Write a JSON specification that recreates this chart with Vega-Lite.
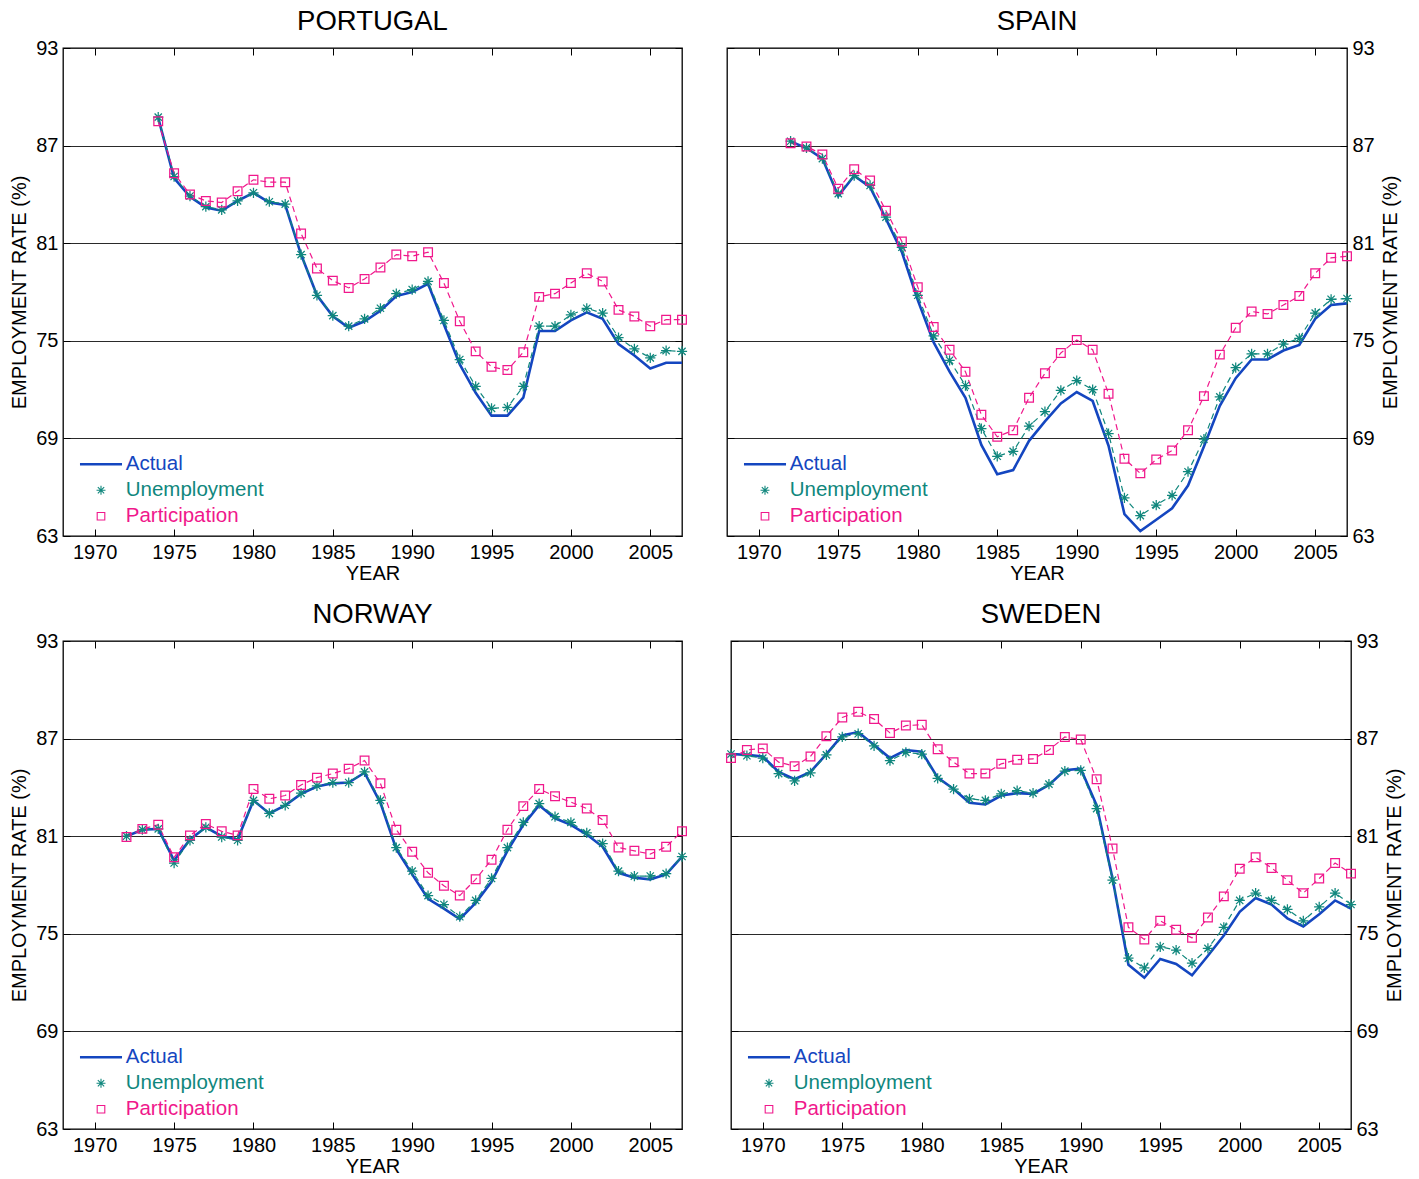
{
  "$schema": "https://vega.github.io/schema/vega-lite/v6.json",
  "padding": {"left": 9, "top": 6, "right": 5, "bottom": 5},
  "background": "white",
  "config": {
    "font": "Liberation Sans",
    "view": {"stroke": "#000", "strokeWidth": 1.3},
    "axis": {"labelFontSize": 20, "titleFontSize": 20, "titleFontWeight": "normal", "labelColor": "#000", "titleColor": "#000", "tickColor": "#000", "domain": false, "gridColor": "#2a2a2a", "gridWidth": 1, "gridOpacity": 1, "labelFont": "Liberation Sans", "titleFont": "Liberation Sans"},
    "title": {"fontSize": 27.5, "fontWeight": "normal", "font": "Liberation Sans", "color": "#000", "offset": 3},
    "legend": {"labelFont": "Liberation Sans"}
  },
  "datasets": {
    "d": [
      {"c":"Portugal","year":1974,"Actual":88.7,"Unemployment":88.75,"Participation":88.5},
      {"c":"Portugal","year":1975,"Actual":85.0,"Unemployment":85.1,"Participation":85.3},
      {"c":"Portugal","year":1976,"Actual":83.85,"Unemployment":83.9,"Participation":84.0},
      {"c":"Portugal","year":1977,"Actual":83.2,"Unemployment":83.25,"Participation":83.6},
      {"c":"Portugal","year":1978,"Actual":83.0,"Unemployment":83.05,"Participation":83.5},
      {"c":"Portugal","year":1979,"Actual":83.6,"Unemployment":83.6,"Participation":84.2},
      {"c":"Portugal","year":1980,"Actual":84.1,"Unemployment":84.1,"Participation":84.9},
      {"c":"Portugal","year":1981,"Actual":83.5,"Unemployment":83.55,"Participation":84.75},
      {"c":"Portugal","year":1982,"Actual":83.35,"Unemployment":83.4,"Participation":84.75},
      {"c":"Portugal","year":1983,"Actual":80.3,"Unemployment":80.3,"Participation":81.6},
      {"c":"Portugal","year":1984,"Actual":77.8,"Unemployment":77.8,"Participation":79.45},
      {"c":"Portugal","year":1985,"Actual":76.5,"Unemployment":76.55,"Participation":78.7},
      {"c":"Portugal","year":1986,"Actual":75.8,"Unemployment":75.9,"Participation":78.25},
      {"c":"Portugal","year":1987,"Actual":76.2,"Unemployment":76.35,"Participation":78.8},
      {"c":"Portugal","year":1988,"Actual":76.85,"Unemployment":77.0,"Participation":79.5},
      {"c":"Portugal","year":1989,"Actual":77.75,"Unemployment":77.9,"Participation":80.3},
      {"c":"Portugal","year":1990,"Actual":78.0,"Unemployment":78.15,"Participation":80.2},
      {"c":"Portugal","year":1991,"Actual":78.5,"Unemployment":78.65,"Participation":80.45},
      {"c":"Portugal","year":1992,"Actual":76.0,"Unemployment":76.25,"Participation":78.55},
      {"c":"Portugal","year":1993,"Actual":73.55,"Unemployment":73.85,"Participation":76.2},
      {"c":"Portugal","year":1994,"Actual":71.8,"Unemployment":72.2,"Participation":74.35},
      {"c":"Portugal","year":1995,"Actual":70.4,"Unemployment":70.85,"Participation":73.4},
      {"c":"Portugal","year":1996,"Actual":70.4,"Unemployment":70.9,"Participation":73.2},
      {"c":"Portugal","year":1997,"Actual":71.5,"Unemployment":72.2,"Participation":74.3},
      {"c":"Portugal","year":1998,"Actual":75.6,"Unemployment":75.9,"Participation":77.7},
      {"c":"Portugal","year":1999,"Actual":75.6,"Unemployment":75.9,"Participation":77.9},
      {"c":"Portugal","year":2000,"Actual":76.25,"Unemployment":76.6,"Participation":78.55},
      {"c":"Portugal","year":2001,"Actual":76.75,"Unemployment":77.0,"Participation":79.15},
      {"c":"Portugal","year":2002,"Actual":76.35,"Unemployment":76.7,"Participation":78.65},
      {"c":"Portugal","year":2003,"Actual":74.8,"Unemployment":75.2,"Participation":76.9},
      {"c":"Portugal","year":2004,"Actual":74.1,"Unemployment":74.5,"Participation":76.5},
      {"c":"Portugal","year":2005,"Actual":73.3,"Unemployment":73.95,"Participation":75.9},
      {"c":"Portugal","year":2006,"Actual":73.65,"Unemployment":74.4,"Participation":76.3},
      {"c":"Portugal","year":2007,"Actual":73.65,"Unemployment":74.35,"Participation":76.3},

      {"c":"Spain","year":1972,"Actual":87.25,"Unemployment":87.27,"Participation":87.15},
      {"c":"Spain","year":1973,"Actual":86.85,"Unemployment":86.86,"Participation":86.95},
      {"c":"Spain","year":1974,"Actual":86.2,"Unemployment":86.2,"Participation":86.45},
      {"c":"Spain","year":1975,"Actual":83.9,"Unemployment":84.05,"Participation":84.35},
      {"c":"Spain","year":1976,"Actual":85.15,"Unemployment":85.15,"Participation":85.55},
      {"c":"Spain","year":1977,"Actual":84.45,"Unemployment":84.55,"Participation":84.85},
      {"c":"Spain","year":1978,"Actual":82.5,"Unemployment":82.6,"Participation":83.0},
      {"c":"Spain","year":1979,"Actual":80.45,"Unemployment":80.75,"Participation":81.1},
      {"c":"Spain","year":1980,"Actual":77.5,"Unemployment":77.8,"Participation":78.3},
      {"c":"Spain","year":1981,"Actual":74.9,"Unemployment":75.3,"Participation":75.85},
      {"c":"Spain","year":1982,"Actual":73.1,"Unemployment":73.8,"Participation":74.45},
      {"c":"Spain","year":1983,"Actual":71.5,"Unemployment":72.25,"Participation":73.1},
      {"c":"Spain","year":1984,"Actual":68.6,"Unemployment":69.6,"Participation":70.45},
      {"c":"Spain","year":1985,"Actual":66.8,"Unemployment":67.9,"Participation":69.1},
      {"c":"Spain","year":1986,"Actual":67.05,"Unemployment":68.2,"Participation":69.5},
      {"c":"Spain","year":1987,"Actual":68.85,"Unemployment":69.75,"Participation":71.5},
      {"c":"Spain","year":1988,"Actual":70.05,"Unemployment":70.65,"Participation":73.0},
      {"c":"Spain","year":1989,"Actual":71.15,"Unemployment":71.95,"Participation":74.25},
      {"c":"Spain","year":1990,"Actual":71.85,"Unemployment":72.55,"Participation":75.05},
      {"c":"Spain","year":1991,"Actual":71.3,"Unemployment":72.0,"Participation":74.45},
      {"c":"Spain","year":1992,"Actual":68.55,"Unemployment":69.3,"Participation":71.75},
      {"c":"Spain","year":1993,"Actual":64.35,"Unemployment":65.35,"Participation":67.75},
      {"c":"Spain","year":1994,"Actual":63.3,"Unemployment":64.25,"Participation":66.85},
      {"c":"Spain","year":1995,"Actual":64.0,"Unemployment":64.9,"Participation":67.7},
      {"c":"Spain","year":1996,"Actual":64.7,"Unemployment":65.5,"Participation":68.25},
      {"c":"Spain","year":1997,"Actual":66.1,"Unemployment":66.95,"Participation":69.5},
      {"c":"Spain","year":1998,"Actual":68.5,"Unemployment":68.95,"Participation":71.6},
      {"c":"Spain","year":1999,"Actual":71.0,"Unemployment":71.55,"Participation":74.15},
      {"c":"Spain","year":2000,"Actual":72.7,"Unemployment":73.35,"Participation":75.8},
      {"c":"Spain","year":2001,"Actual":73.85,"Unemployment":74.2,"Participation":76.8},
      {"c":"Spain","year":2002,"Actual":73.85,"Unemployment":74.2,"Participation":76.65},
      {"c":"Spain","year":2003,"Actual":74.4,"Unemployment":74.8,"Participation":77.2},
      {"c":"Spain","year":2004,"Actual":74.75,"Unemployment":75.15,"Participation":77.75},
      {"c":"Spain","year":2005,"Actual":76.35,"Unemployment":76.7,"Participation":79.15},
      {"c":"Spain","year":2006,"Actual":77.2,"Unemployment":77.55,"Participation":80.1},
      {"c":"Spain","year":2007,"Actual":77.3,"Unemployment":77.6,"Participation":80.2},

      {"c":"Norway","year":1972,"Actual":81.0,"Unemployment":81.0,"Participation":80.95},
      {"c":"Norway","year":1973,"Actual":81.4,"Unemployment":81.4,"Participation":81.45},
      {"c":"Norway","year":1974,"Actual":81.45,"Unemployment":81.45,"Participation":81.7},
      {"c":"Norway","year":1975,"Actual":79.5,"Unemployment":79.35,"Participation":79.7},
      {"c":"Norway","year":1976,"Actual":80.8,"Unemployment":80.75,"Participation":81.05},
      {"c":"Norway","year":1977,"Actual":81.55,"Unemployment":81.55,"Participation":81.75},
      {"c":"Norway","year":1978,"Actual":81.0,"Unemployment":80.95,"Participation":81.3},
      {"c":"Norway","year":1979,"Actual":80.8,"Unemployment":80.75,"Participation":81.05},
      {"c":"Norway","year":1980,"Actual":83.2,"Unemployment":83.2,"Participation":83.9},
      {"c":"Norway","year":1981,"Actual":82.4,"Unemployment":82.4,"Participation":83.3},
      {"c":"Norway","year":1982,"Actual":82.9,"Unemployment":82.9,"Participation":83.5},
      {"c":"Norway","year":1983,"Actual":83.6,"Unemployment":83.65,"Participation":84.15},
      {"c":"Norway","year":1984,"Actual":84.05,"Unemployment":84.1,"Participation":84.6},
      {"c":"Norway","year":1985,"Actual":84.25,"Unemployment":84.3,"Participation":84.85},
      {"c":"Norway","year":1986,"Actual":84.3,"Unemployment":84.3,"Participation":85.15},
      {"c":"Norway","year":1987,"Actual":84.9,"Unemployment":84.95,"Participation":85.65},
      {"c":"Norway","year":1988,"Actual":83.05,"Unemployment":83.2,"Participation":84.25},
      {"c":"Norway","year":1989,"Actual":80.2,"Unemployment":80.3,"Participation":81.4},
      {"c":"Norway","year":1990,"Actual":78.65,"Unemployment":78.85,"Participation":80.05},
      {"c":"Norway","year":1991,"Actual":77.15,"Unemployment":77.35,"Participation":78.75},
      {"c":"Norway","year":1992,"Actual":76.55,"Unemployment":76.8,"Participation":77.95},
      {"c":"Norway","year":1993,"Actual":75.9,"Unemployment":76.05,"Participation":77.35},
      {"c":"Norway","year":1994,"Actual":76.9,"Unemployment":77.05,"Participation":78.35},
      {"c":"Norway","year":1995,"Actual":78.2,"Unemployment":78.4,"Participation":79.55},
      {"c":"Norway","year":1996,"Actual":80.1,"Unemployment":80.3,"Participation":81.4},
      {"c":"Norway","year":1997,"Actual":81.7,"Unemployment":81.85,"Participation":82.85},
      {"c":"Norway","year":1998,"Actual":82.9,"Unemployment":83.0,"Participation":83.9},
      {"c":"Norway","year":1999,"Actual":82.1,"Unemployment":82.2,"Participation":83.45},
      {"c":"Norway","year":2000,"Actual":81.7,"Unemployment":81.85,"Participation":83.1},
      {"c":"Norway","year":2001,"Actual":81.1,"Unemployment":81.2,"Participation":82.7},
      {"c":"Norway","year":2002,"Actual":80.35,"Unemployment":80.55,"Participation":82.0},
      {"c":"Norway","year":2003,"Actual":78.75,"Unemployment":78.85,"Participation":80.3},
      {"c":"Norway","year":2004,"Actual":78.45,"Unemployment":78.55,"Participation":80.1},
      {"c":"Norway","year":2005,"Actual":78.35,"Unemployment":78.55,"Participation":79.9},
      {"c":"Norway","year":2006,"Actual":78.65,"Unemployment":78.7,"Participation":80.35},
      {"c":"Norway","year":2007,"Actual":79.75,"Unemployment":79.75,"Participation":81.3},

      {"c":"Sweden","year":1968,"Actual":86.05,"Unemployment":86.05,"Participation":85.8},
      {"c":"Sweden","year":1969,"Actual":86.0,"Unemployment":85.95,"Participation":86.3},
      {"c":"Sweden","year":1970,"Actual":85.9,"Unemployment":85.8,"Participation":86.4},
      {"c":"Sweden","year":1971,"Actual":84.95,"Unemployment":84.85,"Participation":85.55},
      {"c":"Sweden","year":1972,"Actual":84.5,"Unemployment":84.4,"Participation":85.3},
      {"c":"Sweden","year":1973,"Actual":84.95,"Unemployment":84.9,"Participation":85.9},
      {"c":"Sweden","year":1974,"Actual":86.05,"Unemployment":86.0,"Participation":87.15},
      {"c":"Sweden","year":1975,"Actual":87.2,"Unemployment":87.1,"Participation":88.3},
      {"c":"Sweden","year":1976,"Actual":87.4,"Unemployment":87.3,"Participation":88.65},
      {"c":"Sweden","year":1977,"Actual":86.6,"Unemployment":86.55,"Participation":88.2},
      {"c":"Sweden","year":1978,"Actual":85.8,"Unemployment":85.65,"Participation":87.35},
      {"c":"Sweden","year":1979,"Actual":86.3,"Unemployment":86.15,"Participation":87.8},
      {"c":"Sweden","year":1980,"Actual":86.2,"Unemployment":86.05,"Participation":87.85},
      {"c":"Sweden","year":1981,"Actual":84.6,"Unemployment":84.55,"Participation":86.35},
      {"c":"Sweden","year":1982,"Actual":83.9,"Unemployment":83.9,"Participation":85.55},
      {"c":"Sweden","year":1983,"Actual":83.05,"Unemployment":83.3,"Participation":84.85},
      {"c":"Sweden","year":1984,"Actual":82.95,"Unemployment":83.2,"Participation":84.85},
      {"c":"Sweden","year":1985,"Actual":83.5,"Unemployment":83.6,"Participation":85.45},
      {"c":"Sweden","year":1986,"Actual":83.65,"Unemployment":83.8,"Participation":85.7},
      {"c":"Sweden","year":1987,"Actual":83.6,"Unemployment":83.65,"Participation":85.75},
      {"c":"Sweden","year":1988,"Actual":84.15,"Unemployment":84.2,"Participation":86.3},
      {"c":"Sweden","year":1989,"Actual":85.05,"Unemployment":85.0,"Participation":87.1},
      {"c":"Sweden","year":1990,"Actual":85.15,"Unemployment":85.05,"Participation":86.95},
      {"c":"Sweden","year":1991,"Actual":82.9,"Unemployment":82.7,"Participation":84.5},
      {"c":"Sweden","year":1992,"Actual":78.4,"Unemployment":78.3,"Participation":80.25},
      {"c":"Sweden","year":1993,"Actual":73.1,"Unemployment":73.5,"Participation":75.4},
      {"c":"Sweden","year":1994,"Actual":72.3,"Unemployment":72.9,"Participation":74.65},
      {"c":"Sweden","year":1995,"Actual":73.45,"Unemployment":74.2,"Participation":75.8},
      {"c":"Sweden","year":1996,"Actual":73.15,"Unemployment":74.0,"Participation":75.25},
      {"c":"Sweden","year":1997,"Actual":72.45,"Unemployment":73.2,"Participation":74.75},
      {"c":"Sweden","year":1998,"Actual":73.65,"Unemployment":74.1,"Participation":76.0},
      {"c":"Sweden","year":1999,"Actual":74.9,"Unemployment":75.4,"Participation":77.3},
      {"c":"Sweden","year":2000,"Actual":76.35,"Unemployment":77.05,"Participation":79.0},
      {"c":"Sweden","year":2001,"Actual":77.2,"Unemployment":77.5,"Participation":79.7},
      {"c":"Sweden","year":2002,"Actual":76.8,"Unemployment":77.05,"Participation":79.05},
      {"c":"Sweden","year":2003,"Actual":75.95,"Unemployment":76.5,"Participation":78.3},
      {"c":"Sweden","year":2004,"Actual":75.45,"Unemployment":75.8,"Participation":77.5},
      {"c":"Sweden","year":2005,"Actual":76.2,"Unemployment":76.65,"Participation":78.4},
      {"c":"Sweden","year":2006,"Actual":77.05,"Unemployment":77.5,"Participation":79.35},
      {"c":"Sweden","year":2007,"Actual":76.55,"Unemployment":76.8,"Participation":78.7}
    ]
  },
  "resolve": {"scale": {"color": "independent", "shape": "independent"}, "legend": {"color": "independent", "shape": "independent"}},
  "spacing": 15,
  "vconcat": [
    {
      "spacing": 34,
      "resolve": {"scale": {"color": "independent", "shape": "independent"}, "legend": {"color": "independent", "shape": "independent"}},
      "hconcat": [
        {
          "width": 619, "height": 488,
          "title": "PORTUGAL",
          "data": {"name": "d"},
          "transform": [{"filter": "datum.c === 'Portugal'"}, {"fold": ["Actual", "Unemployment", "Participation"], "as": ["s", "v"]}],
          "encoding": {
            "color": {"field": "s", "type": "nominal", "scale": {"domain": ["Actual", "Unemployment", "Participation"], "range": ["#1446c0", "#10877d", "#f0188c"]},
              "legend": {"title": null, "orient": "bottom-left", "offset": 9, "padding": 0, "labelFontSize": 20.5, "labelOffset": 14.5, "symbolOffset": 18.75, "rowPadding": 5, "symbolSize": 80,
                "encode": {
                  "symbols": {"update": {"strokeWidth": {"signal": "datum.value === 'Actual' ? 2.6 : 1.1"}, "fill": {"value": "transparent"}}},
                  "labels": {"update": {"fill": {"signal": "datum.value === 'Actual' ? '#1446c0' : datum.value === 'Unemployment' ? '#10877d' : '#f0188c'"}}}
                }}}
          },
          "resolve": {"axis": {"x": "independent", "y": "independent"}},
          "layer": [
            {"transform": [{"filter": "datum.s === 'Actual'"}], "mark": {"type": "line", "strokeWidth": 2.6},
              "encoding": {
                "x": {"field": "year", "type": "quantitative", "scale": {"domain": [1968, 2007], "nice": false, "zero": false}, "axis": {"orient": "bottom", "values": [1970, 1975, 1980, 1985, 1990, 1995, 2000, 2005], "format": "d", "grid": false, "tickSize": -7, "labelPadding": 13, "title": "YEAR", "titlePadding": 1}},
                "y": {"field": "v", "type": "quantitative", "scale": {"domain": [63, 93], "nice": false, "zero": false}, "axis": {"orient": "left", "values": [63, 69, 75, 81, 87, 93], "grid": true, "tickSize": -7, "labelPadding": 12, "title": "EMPLOYMENT RATE (%)", "titlePadding": 6}}
              }},
            {"transform": [{"filter": "datum.s !== 'Actual'"}], "mark": {"type": "line", "strokeWidth": 1.2, "strokeDash": [6, 4]},
              "encoding": {
                "x": {"field": "year", "type": "quantitative", "axis": {"orient": "top", "values": [1970, 1975, 1980, 1985, 1990, 1995, 2000, 2005], "labels": false, "grid": false, "tickSize": -7, "title": null}},
                "y": {"field": "v", "type": "quantitative", "axis": {"orient": "right", "values": [63, 69, 75, 81, 87, 93], "labels": false, "grid": false, "tickSize": -7, "title": null}}
              }},
            {"transform": [{"filter": "datum.s !== 'Actual'"}], "mark": {"type": "point", "filled": false, "strokeWidth": 1.25, "size": 105, "opacity": 1},
              "encoding": {
                "x": {"field": "year", "type": "quantitative", "axis": null},
                "y": {"field": "v", "type": "quantitative", "axis": null},
                "shape": {"field": "s", "type": "nominal", "scale": {"domain": ["Actual", "Unemployment", "Participation"], "range": ["M-4.7,0L4.7,0", "M0,-1L0,1M-1,0L1,0M-0.71,-0.71L0.71,0.71M-0.71,0.71L0.71,-0.71", "M-0.85,-0.85L0.85,-0.85L0.85,0.85L-0.85,0.85Z"]},
                  "legend": {"title": null, "orient": "bottom-left", "offset": 9, "padding": 0, "labelFontSize": 20.5, "labelOffset": 14.5, "symbolOffset": 18.75, "rowPadding": 5, "symbolSize": 80}}
              }}
          ]
        },
        {
          "width": 620, "height": 488,
          "title": "SPAIN",
          "data": {"name": "d"},
          "transform": [{"filter": "datum.c === 'Spain'"}, {"fold": ["Actual", "Unemployment", "Participation"], "as": ["s", "v"]}],
          "encoding": {
            "color": {"field": "s", "type": "nominal", "scale": {"domain": ["Actual", "Unemployment", "Participation"], "range": ["#1446c0", "#10877d", "#f0188c"]},
              "legend": {"title": null, "orient": "bottom-left", "offset": 9, "padding": 0, "labelFontSize": 20.5, "labelOffset": 14.5, "symbolOffset": 18.75, "rowPadding": 5, "symbolSize": 80,
                "encode": {
                  "symbols": {"update": {"strokeWidth": {"signal": "datum.value === 'Actual' ? 2.6 : 1.1"}, "fill": {"value": "transparent"}}},
                  "labels": {"update": {"fill": {"signal": "datum.value === 'Actual' ? '#1446c0' : datum.value === 'Unemployment' ? '#10877d' : '#f0188c'"}}}
                }}}
          },
          "resolve": {"axis": {"x": "independent", "y": "independent"}},
          "layer": [
            {"transform": [{"filter": "datum.s === 'Actual'"}], "mark": {"type": "line", "strokeWidth": 2.6},
              "encoding": {
                "x": {"field": "year", "type": "quantitative", "scale": {"domain": [1968, 2007], "nice": false, "zero": false}, "axis": {"orient": "bottom", "values": [1970, 1975, 1980, 1985, 1990, 1995, 2000, 2005], "format": "d", "grid": false, "tickSize": -7, "labelPadding": 13, "title": "YEAR", "titlePadding": 1}},
                "y": {"field": "v", "type": "quantitative", "scale": {"domain": [63, 93], "nice": false, "zero": false}, "axis": {"orient": "right", "values": [63, 69, 75, 81, 87, 93], "grid": true, "tickSize": -7, "labelPadding": 12, "title": "EMPLOYMENT RATE (%)", "titleAngle": 270, "titleBaseline": "top", "titlePadding": 6}}
              }},
            {"transform": [{"filter": "datum.s !== 'Actual'"}], "mark": {"type": "line", "strokeWidth": 1.2, "strokeDash": [6, 4]},
              "encoding": {
                "x": {"field": "year", "type": "quantitative", "axis": {"orient": "top", "values": [1970, 1975, 1980, 1985, 1990, 1995, 2000, 2005], "labels": false, "grid": false, "tickSize": -7, "title": null}},
                "y": {"field": "v", "type": "quantitative", "axis": {"orient": "left", "values": [63, 69, 75, 81, 87, 93], "labels": false, "grid": false, "tickSize": -7, "title": null}}
              }},
            {"transform": [{"filter": "datum.s !== 'Actual'"}], "mark": {"type": "point", "filled": false, "strokeWidth": 1.25, "size": 105, "opacity": 1},
              "encoding": {
                "x": {"field": "year", "type": "quantitative", "axis": null},
                "y": {"field": "v", "type": "quantitative", "axis": null},
                "shape": {"field": "s", "type": "nominal", "scale": {"domain": ["Actual", "Unemployment", "Participation"], "range": ["M-4.7,0L4.7,0", "M0,-1L0,1M-1,0L1,0M-0.71,-0.71L0.71,0.71M-0.71,0.71L0.71,-0.71", "M-0.85,-0.85L0.85,-0.85L0.85,0.85L-0.85,0.85Z"]},
                  "legend": {"title": null, "orient": "bottom-left", "offset": 9, "padding": 0, "labelFontSize": 20.5, "labelOffset": 14.5, "symbolOffset": 18.75, "rowPadding": 5, "symbolSize": 80}}
              }}
          ]
        }
      ]
    },
    {
      "spacing": 31,
      "resolve": {"scale": {"color": "independent", "shape": "independent"}, "legend": {"color": "independent", "shape": "independent"}},
      "hconcat": [
        {
          "width": 619, "height": 488,
          "title": "NORWAY",
          "data": {"name": "d"},
          "transform": [{"filter": "datum.c === 'Norway'"}, {"fold": ["Actual", "Unemployment", "Participation"], "as": ["s", "v"]}],
          "encoding": {
            "color": {"field": "s", "type": "nominal", "scale": {"domain": ["Actual", "Unemployment", "Participation"], "range": ["#1446c0", "#10877d", "#f0188c"]},
              "legend": {"title": null, "orient": "bottom-left", "offset": 9, "padding": 0, "labelFontSize": 20.5, "labelOffset": 14.5, "symbolOffset": 18.75, "rowPadding": 5, "symbolSize": 80,
                "encode": {
                  "symbols": {"update": {"strokeWidth": {"signal": "datum.value === 'Actual' ? 2.6 : 1.1"}, "fill": {"value": "transparent"}}},
                  "labels": {"update": {"fill": {"signal": "datum.value === 'Actual' ? '#1446c0' : datum.value === 'Unemployment' ? '#10877d' : '#f0188c'"}}}
                }}}
          },
          "resolve": {"axis": {"x": "independent", "y": "independent"}},
          "layer": [
            {"transform": [{"filter": "datum.s === 'Actual'"}], "mark": {"type": "line", "strokeWidth": 2.6},
              "encoding": {
                "x": {"field": "year", "type": "quantitative", "scale": {"domain": [1968, 2007], "nice": false, "zero": false}, "axis": {"orient": "bottom", "values": [1970, 1975, 1980, 1985, 1990, 1995, 2000, 2005], "format": "d", "grid": false, "tickSize": -7, "labelPadding": 13, "title": "YEAR", "titlePadding": 1}},
                "y": {"field": "v", "type": "quantitative", "scale": {"domain": [63, 93], "nice": false, "zero": false}, "axis": {"orient": "left", "values": [63, 69, 75, 81, 87, 93], "grid": true, "tickSize": -7, "labelPadding": 12, "title": "EMPLOYMENT RATE (%)", "titlePadding": 6}}
              }},
            {"transform": [{"filter": "datum.s !== 'Actual'"}], "mark": {"type": "line", "strokeWidth": 1.2, "strokeDash": [6, 4]},
              "encoding": {
                "x": {"field": "year", "type": "quantitative", "axis": {"orient": "top", "values": [1970, 1975, 1980, 1985, 1990, 1995, 2000, 2005], "labels": false, "grid": false, "tickSize": -7, "title": null}},
                "y": {"field": "v", "type": "quantitative", "axis": {"orient": "right", "values": [63, 69, 75, 81, 87, 93], "labels": false, "grid": false, "tickSize": -7, "title": null}}
              }},
            {"transform": [{"filter": "datum.s !== 'Actual'"}], "mark": {"type": "point", "filled": false, "strokeWidth": 1.25, "size": 105, "opacity": 1},
              "encoding": {
                "x": {"field": "year", "type": "quantitative", "axis": null},
                "y": {"field": "v", "type": "quantitative", "axis": null},
                "shape": {"field": "s", "type": "nominal", "scale": {"domain": ["Actual", "Unemployment", "Participation"], "range": ["M-4.7,0L4.7,0", "M0,-1L0,1M-1,0L1,0M-0.71,-0.71L0.71,0.71M-0.71,0.71L0.71,-0.71", "M-0.85,-0.85L0.85,-0.85L0.85,0.85L-0.85,0.85Z"]},
                  "legend": {"title": null, "orient": "bottom-left", "offset": 9, "padding": 0, "labelFontSize": 20.5, "labelOffset": 14.5, "symbolOffset": 18.75, "rowPadding": 5, "symbolSize": 80}}
              }}
          ]
        },
        {
          "width": 620, "height": 488,
          "title": "SWEDEN",
          "data": {"name": "d"},
          "transform": [{"filter": "datum.c === 'Sweden'"}, {"fold": ["Actual", "Unemployment", "Participation"], "as": ["s", "v"]}],
          "encoding": {
            "color": {"field": "s", "type": "nominal", "scale": {"domain": ["Actual", "Unemployment", "Participation"], "range": ["#1446c0", "#10877d", "#f0188c"]},
              "legend": {"title": null, "orient": "bottom-left", "offset": 9, "padding": 0, "labelFontSize": 20.5, "labelOffset": 14.5, "symbolOffset": 18.75, "rowPadding": 5, "symbolSize": 80,
                "encode": {
                  "symbols": {"update": {"strokeWidth": {"signal": "datum.value === 'Actual' ? 2.6 : 1.1"}, "fill": {"value": "transparent"}}},
                  "labels": {"update": {"fill": {"signal": "datum.value === 'Actual' ? '#1446c0' : datum.value === 'Unemployment' ? '#10877d' : '#f0188c'"}}}
                }}}
          },
          "resolve": {"axis": {"x": "independent", "y": "independent"}},
          "layer": [
            {"transform": [{"filter": "datum.s === 'Actual'"}], "mark": {"type": "line", "strokeWidth": 2.6},
              "encoding": {
                "x": {"field": "year", "type": "quantitative", "scale": {"domain": [1968, 2007], "nice": false, "zero": false}, "axis": {"orient": "bottom", "values": [1970, 1975, 1980, 1985, 1990, 1995, 2000, 2005], "format": "d", "grid": false, "tickSize": -7, "labelPadding": 13, "title": "YEAR", "titlePadding": 1}},
                "y": {"field": "v", "type": "quantitative", "scale": {"domain": [63, 93], "nice": false, "zero": false}, "axis": {"orient": "right", "values": [63, 69, 75, 81, 87, 93], "grid": true, "tickSize": -7, "labelPadding": 12, "title": "EMPLOYMENT RATE (%)", "titleAngle": 270, "titleBaseline": "top", "titlePadding": 6}}
              }},
            {"transform": [{"filter": "datum.s !== 'Actual'"}], "mark": {"type": "line", "strokeWidth": 1.2, "strokeDash": [6, 4]},
              "encoding": {
                "x": {"field": "year", "type": "quantitative", "axis": {"orient": "top", "values": [1970, 1975, 1980, 1985, 1990, 1995, 2000, 2005], "labels": false, "grid": false, "tickSize": -7, "title": null}},
                "y": {"field": "v", "type": "quantitative", "axis": {"orient": "left", "values": [63, 69, 75, 81, 87, 93], "labels": false, "grid": false, "tickSize": -7, "title": null}}
              }},
            {"transform": [{"filter": "datum.s !== 'Actual'"}], "mark": {"type": "point", "filled": false, "strokeWidth": 1.25, "size": 105, "opacity": 1},
              "encoding": {
                "x": {"field": "year", "type": "quantitative", "axis": null},
                "y": {"field": "v", "type": "quantitative", "axis": null},
                "shape": {"field": "s", "type": "nominal", "scale": {"domain": ["Actual", "Unemployment", "Participation"], "range": ["M-4.7,0L4.7,0", "M0,-1L0,1M-1,0L1,0M-0.71,-0.71L0.71,0.71M-0.71,0.71L0.71,-0.71", "M-0.85,-0.85L0.85,-0.85L0.85,0.85L-0.85,0.85Z"]},
                  "legend": {"title": null, "orient": "bottom-left", "offset": 9, "padding": 0, "labelFontSize": 20.5, "labelOffset": 14.5, "symbolOffset": 18.75, "rowPadding": 5, "symbolSize": 80}}
              }}
          ]
        }
      ]
    }
  ]
}
